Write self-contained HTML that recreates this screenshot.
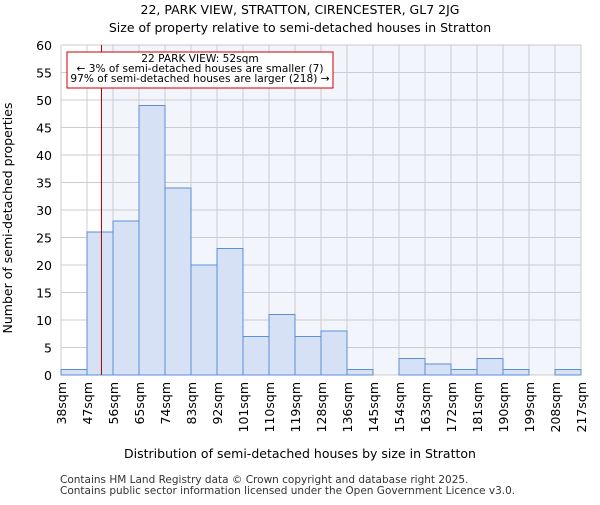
<!DOCTYPE html>
<html><head><meta charset="utf-8"><style>body{margin:0;background:#fff}svg{font-family:"DejaVu Sans","Liberation Sans",sans-serif}</style></head>
<body>
<svg id="chart" width="600" height="500" xmlns="http://www.w3.org/2000/svg">
<text x="300" y="14" text-anchor="middle" font-size="12.5">22, PARK VIEW, STRATTON, CIRENCESTER, GL7 2JG</text>
<text x="300" y="32" text-anchor="middle" font-size="12.5">Size of property relative to semi-detached houses in Stratton</text>
<g id="plot"></g>
<text x="300" y="458" text-anchor="middle" font-size="12.5">Distribution of semi-detached houses by size in Stratton</text>
<text transform="translate(12,218) rotate(-90)" text-anchor="middle" font-size="12.5">Number of semi-detached properties</text>
<text x="60" y="483" font-size="10.5" fill="#333">Contains HM Land Registry data © Crown copyright and database right 2025.</text>
<text x="60" y="494" font-size="10.5" fill="#333">Contains public sector information licensed under the Open Government Licence v3.0.</text>
</svg>
<script>
const binLabels=["38sqm","47sqm","56sqm","65sqm","74sqm","83sqm","92sqm","101sqm","110sqm","119sqm","128sqm","136sqm","145sqm","154sqm","163sqm","172sqm","181sqm","190sqm","199sqm","208sqm","217sqm"];
const counts=[1,26,28,49,34,20,23,7,11,7,8,1,0,3,2,1,3,1,0,1];
const yTicks=[0,5,10,15,20,25,30,35,40,45,50,55,60];
const propertySize=52;
const binStart=38, binWidth=9;
const X0=61,X1=581,Y0=375,Y1=45,ymax=60;
const nb=counts.length;
const xs=i=>X0+(X1-X0)*i/nb;
const xv=v=>X0+(X1-X0)*(v-binStart)/(binWidth*nb);
const ys=v=>Y0-(Y0-Y1)*v/ymax;
const NS="http://www.w3.org/2000/svg";
const g=document.getElementById('plot');
function mk(t,a){const e=document.createElementNS(NS,t);for(const k in a)e.setAttribute(k,a[k]);g.appendChild(e);return e;}
const px=xv(propertySize);
let e=mk('rect',{x:px,y:Y1,width:X1-px,height:Y0-Y1,fill:'#f3f5fc'});


for(let i=0;i<=nb;i++){e=mk('line',{x1:xs(i),x2:xs(i),y1:Y1,y2:Y0,stroke:'#ccc','stroke-width':1});

}
yTicks.forEach(v=>{e=mk('line',{x1:X0,x2:X1,y1:ys(v),y2:ys(v),stroke:'#ccc','stroke-width':1});


e=mk('text',{x:X0-9,y:ys(v)+5,'text-anchor':'end','font-size':12.5});e.textContent=v;

});
counts.forEach((c,i)=>{if(c<=0)return;e=mk('rect',{x:xs(i),y:ys(c),width:xs(i+1)-xs(i),height:Y0-ys(c),fill:'#d6e1f5',stroke:'#5b8fd6','stroke-width':1});

});
binLabels.forEach((l,i)=>{const x=xs(i);e=mk('text',{transform:`translate(${x+5},382) rotate(-90)`,'text-anchor':'end','font-size':12.5});e.textContent=l;

});
e=mk('line',{x1:px,x2:px,y1:Y1,y2:Y0,stroke:'#a00','stroke-width':1});


e=mk('rect',{x:67,y:52,width:266,height:36,fill:'#fff',stroke:'#c00','stroke-width':1});


["22 PARK VIEW: 52sqm","← 3% of semi-detached houses are smaller (7)","97% of semi-detached houses are larger (218) →"].forEach((t,i)=>{e=mk('text',{x:200,y:62+i*10,'text-anchor':'middle','font-size':10.6});e.textContent=t;

});
</script>
</body></html>
